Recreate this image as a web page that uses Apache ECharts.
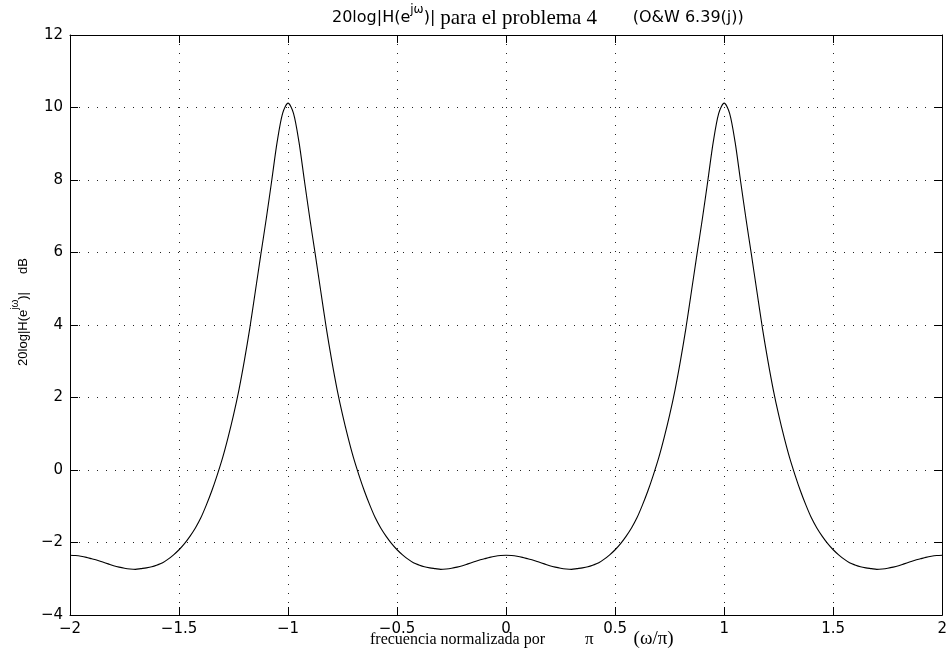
<!DOCTYPE html>
<html>
<head>
<meta charset="utf-8">
<script src="https://cdn.jsdelivr.net/npm/echarts@6.0.0/dist/echarts.min.js"></script>
<style>
  html, body { margin: 0; padding: 0; background: #fff; }
  #chart { width: 950px; height: 661px; }
</style>
</head>
<body>
<div id="chart"></div>
<script>
// normalized frequency (omega/pi)
const freq = [
  -2, -1.975, -1.95, -1.925, -1.9, -1.875, -1.85, -1.825, -1.8, -1.775,
  -1.75, -1.725, -1.7, -1.675, -1.65, -1.625, -1.6, -1.575, -1.55, -1.525,
  -1.5, -1.475, -1.45, -1.425, -1.4, -1.375, -1.35, -1.325, -1.3, -1.275,
  -1.25, -1.225, -1.2, -1.175, -1.15, -1.125, -1.1, -1.075, -1.05, -1.025, -1,
  -0.975, -0.95, -0.925, -0.9, -0.875, -0.85, -0.825, -0.8, -0.775, -0.75,
  -0.725, -0.7, -0.675, -0.65, -0.625, -0.6, -0.575, -0.55, -0.525, -0.5,
  -0.475, -0.45, -0.425, -0.4, -0.375, -0.35, -0.325, -0.3, -0.275, -0.25,
  -0.225, -0.2, -0.175, -0.15, -0.125, -0.1, -0.075, -0.05, -0.025, 0,
  0.025, 0.05, 0.075, 0.1, 0.125, 0.15, 0.175, 0.2, 0.225, 0.25,
  0.275, 0.3, 0.325, 0.35, 0.375, 0.4, 0.425, 0.45, 0.475, 0.5,
  0.525, 0.55, 0.575, 0.6, 0.625, 0.65, 0.675, 0.7, 0.725, 0.75,
  0.775, 0.8, 0.825, 0.85, 0.875, 0.9, 0.925, 0.95, 0.975, 1,
  1.025, 1.05, 1.075, 1.1, 1.125, 1.15, 1.175, 1.2, 1.225, 1.25,
  1.275, 1.3, 1.325, 1.35, 1.375, 1.4, 1.425, 1.45, 1.475, 1.5,
  1.525, 1.55, 1.575, 1.6, 1.625, 1.65, 1.675, 1.7, 1.725, 1.75,
  1.775, 1.8, 1.825, 1.85, 1.875, 1.9, 1.925, 1.95, 1.975, 2
];

// 20log|H(e^jw)| in dB
const gainDb = [
  -2.35, -2.36, -2.38, -2.41, -2.45, -2.49, -2.54, -2.59, -2.64, -2.68,
  -2.71, -2.73, -2.74, -2.72, -2.70, -2.67, -2.62, -2.56, -2.46, -2.34,
  -2.20, -2.03, -1.83, -1.60, -1.32, -0.97, -0.58, -0.14, 0.34, 0.90,
  1.52, 2.22, 3.03, 3.93, 4.93, 5.94, 6.93, 7.98, 9.05, 9.84, 10.12,
  9.84, 9.05, 7.98, 6.93, 5.94, 4.93, 3.93, 3.03, 2.22, 1.52,
  0.90, 0.34, -0.14, -0.58, -0.97, -1.32, -1.60, -1.83, -2.03, -2.20,
  -2.34, -2.46, -2.56, -2.62, -2.67, -2.70, -2.72, -2.74, -2.73, -2.71,
  -2.68, -2.64, -2.59, -2.54, -2.49, -2.45, -2.41, -2.38, -2.36, -2.35,
  -2.36, -2.38, -2.41, -2.45, -2.49, -2.54, -2.59, -2.64, -2.68, -2.71,
  -2.73, -2.74, -2.72, -2.70, -2.67, -2.62, -2.56, -2.46, -2.34, -2.20,
  -2.03, -1.83, -1.60, -1.32, -0.97, -0.58, -0.14, 0.34, 0.90, 1.52,
  2.22, 3.03, 3.93, 4.93, 5.94, 6.93, 7.98, 9.05, 9.84, 10.12,
  9.84, 9.05, 7.98, 6.93, 5.94, 4.93, 3.93, 3.03, 2.22, 1.52,
  0.90, 0.34, -0.14, -0.58, -0.97, -1.32, -1.60, -1.83, -2.03, -2.20,
  -2.34, -2.46, -2.56, -2.62, -2.67, -2.70, -2.72, -2.74, -2.73, -2.71,
  -2.68, -2.64, -2.59, -2.54, -2.49, -2.45, -2.41, -2.38, -2.36, -2.35
];

const SANS = 'DejaVu Sans, Liberation Sans, sans-serif';
const HELV = 'Liberation Sans, Arial, sans-serif';
const SERIF = 'Liberation Serif, Times New Roman, serif';
const minus = v => String(v).replace('-', '\u2212');

const gridDots = { type: [1, 8], color: '#222', width: 1 };
const boxLine = { show: true, onZero: false, lineStyle: { color: '#000', width: 1 } };
const tick = { show: true, inside: true, length: 8, lineStyle: { color: '#000' } };

const chart = echarts.init(document.getElementById('chart'));

chart.setOption({
  animation: false,
  backgroundColor: '#fff',
  title: {
    left: 327, top: -1,
    text: '{s|20log|H(e}{sup|jω}{s|)|} {t|para el problema 4}{s|       (O&W 6.39(j))}',
    textStyle: {
      fontWeight: 'normal',
      rich: {
        s: { fontFamily: SANS, fontSize: 16, fontWeight: 'normal', color: '#000', lineHeight: 28 },
        sup: { fontFamily: SANS, fontSize: 12, fontWeight: 'normal', color: '#000', lineHeight: 12, verticalAlign: 'top' },
        t: { fontFamily: SERIF, fontSize: 21, fontWeight: 'normal', color: '#000', lineHeight: 28 }
      }
    }
  },
  graphic: [{
    type: 'text', left: 370, top: 630,
    style: {
      text: '{t|frecuencia normalizada por}{p|π}{q|(ω/π)}',
      rich: {
        t: { fontFamily: SERIF, fontSize: 16, fill: '#000', lineHeight: 20 },
        p: { fontFamily: SERIF, fontSize: 17, fill: '#000', lineHeight: 20, padding: [0, 0, 0, 40] },
        q: { fontFamily: SERIF, fontSize: 19, fill: '#000', lineHeight: 20, padding: [0, 0, 0, 40] }
      }
    }
  }],
  grid: { left: 70, right: 6, top: 35, bottom: 46 },
  xAxis: [
    {
      type: 'value', min: -2, max: 2, interval: 0.5,
      axisLine: boxLine, axisTick: tick,
      axisLabel: { color: '#000', fontFamily: SANS, fontSize: 15, margin: 7, formatter: minus },
      splitLine: { show: true, lineStyle: gridDots }
    },
    {
      type: 'value', position: 'top', min: -2, max: 2, interval: 0.5,
      axisLine: boxLine, axisTick: tick, axisLabel: { show: false }, splitLine: { show: false }
    }
  ],
  yAxis: [
    {
      type: 'value', min: -4, max: 12, interval: 2,
      axisLine: boxLine, axisTick: tick,
      axisLabel: { color: '#000', fontFamily: SANS, fontSize: 15, margin: 7, formatter: minus },
      splitLine: { show: true, lineStyle: gridDots },
      name: '{s|20log|H(e}{sup|jω}{s|)|     dB}',
      nameLocation: 'middle', nameGap: 31,
      nameTextStyle: {
        padding: [0, 0, 0, 26],
        rich: {
          s: { fontFamily: HELV, fontSize: 13, color: '#000', lineHeight: 26 },
          sup: { fontFamily: HELV, fontSize: 10, color: '#000', lineHeight: 10, verticalAlign: 'top' }
        }
      }
    },
    {
      type: 'value', position: 'right', min: -4, max: 12, interval: 2,
      axisLine: boxLine, axisTick: tick, axisLabel: { show: false }, splitLine: { show: false }
    }
  ],
  series: [{
    type: 'line',
    data: freq.map((f, i) => [f, gainDb[i]]),
    smooth: 0.3,
    showSymbol: false,
    lineStyle: { color: '#000', width: 1.1 }
  }]
});
</script>
</body>
</html>
